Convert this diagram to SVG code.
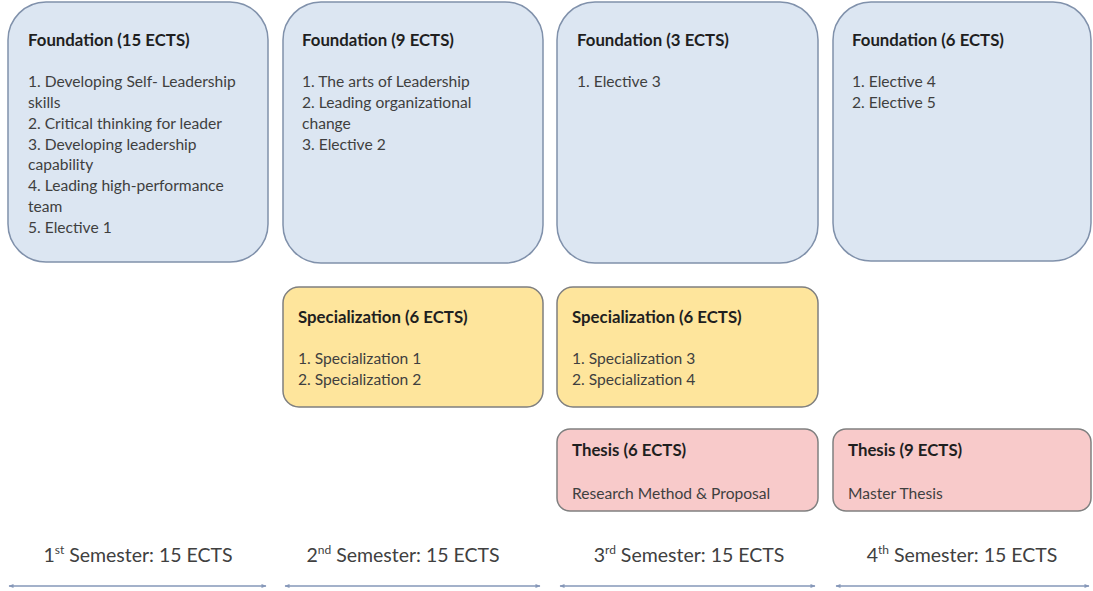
<svg xmlns="http://www.w3.org/2000/svg" width="1093" height="591" viewBox="0 0 1093 591">
<defs>
<style>
.found{fill:#dce6f2;stroke:#8091ab;stroke-width:1.5}
.spec{fill:#fee59c;stroke:#7f7f7f;stroke-width:1.5}
.thes{fill:#f8caca;stroke:#808080;stroke-width:1.5}
.t{font-family:Lato,"Liberation Sans",sans-serif;font-size:16.8px;font-weight:bold;fill:#1f1f1f}
.b{font-family:Lato,"Liberation Sans",sans-serif;font-size:15.6px;fill:#3f3f3f}
.sem{font-family:Lato,"Liberation Sans",sans-serif;font-size:19.5px;fill:#404040;text-anchor:middle}
.sup{font-size:12px}
.arr{stroke:#8597b8;stroke-width:1.5;fill:none;marker-start:url(#ah);marker-end:url(#ah)}
</style>
<marker id="ah" viewBox="0 0 10 10" refX="9" refY="5" markerWidth="6" markerHeight="5" orient="auto-start-reverse" markerUnits="userSpaceOnUse">
<path d="M0,1 L10,5 L0,9 Z" fill="#8597b8"/>
</marker>
</defs>
<rect width="1093" height="591" fill="#ffffff"/>

<g id="foundation-1">
<rect class="found" x="8" y="2" width="260" height="260" rx="38"/>
<text class="t" x="28" y="46">Foundation (15 ECTS)</text>
<text class="b" x="28" y="87">1. Developing Self- Leadership</text>
<text class="b" x="28" y="108">skills</text>
<text class="b" x="28" y="129">2. Critical thinking for leader</text>
<text class="b" x="28" y="150">3. Developing leadership</text>
<text class="b" x="28" y="170">capability</text>
<text class="b" x="28" y="191">4. Leading high-performance</text>
<text class="b" x="28" y="212">team</text>
<text class="b" x="28" y="233">5. Elective 1</text>
</g>

<g id="foundation-2">
<rect class="found" x="283" y="2" width="260" height="261" rx="38"/>
<text class="t" x="302" y="46">Foundation (9 ECTS)</text>
<text class="b" x="302" y="87">1. The arts of Leadership</text>
<text class="b" x="302" y="108">2. Leading organizational</text>
<text class="b" x="302" y="129">change</text>
<text class="b" x="302" y="150">3. Elective 2</text>
</g>

<g id="foundation-3">
<rect class="found" x="557" y="2" width="261" height="261" rx="38"/>
<text class="t" x="577" y="46">Foundation (3 ECTS)</text>
<text class="b" x="577" y="87">1. Elective 3</text>
</g>

<g id="foundation-4">
<rect class="found" x="833" y="2" width="258" height="259" rx="38"/>
<text class="t" x="852" y="46">Foundation (6 ECTS)</text>
<text class="b" x="852" y="87">1. Elective 4</text>
<text class="b" x="852" y="108">2. Elective 5</text>
</g>

<g id="specialization-2">
<rect class="spec" x="283" y="287" width="260" height="120" rx="16"/>
<text class="t" x="298" y="323">Specialization (6 ECTS)</text>
<text class="b" x="298" y="364">1. Specialization 1</text>
<text class="b" x="298" y="385">2. Specialization 2</text>
</g>

<g id="specialization-3">
<rect class="spec" x="557" y="287" width="261" height="120" rx="16"/>
<text class="t" x="572" y="323">Specialization (6 ECTS)</text>
<text class="b" x="572" y="364">1. Specialization 3</text>
<text class="b" x="572" y="385">2. Specialization 4</text>
</g>

<g id="thesis-3">
<rect class="thes" x="557" y="429" width="261" height="82" rx="13"/>
<text class="t" x="572" y="456">Thesis (6 ECTS)</text>
<text class="b" x="572" y="499">Research Method &amp; Proposal</text>
</g>

<g id="thesis-4">
<rect class="thes" x="833" y="429" width="258" height="82" rx="13"/>
<text class="t" x="848" y="456">Thesis (9 ECTS)</text>
<text class="b" x="848" y="499">Master Thesis</text>
</g>

<g id="semester-labels">
<text class="sem" x="138" y="562">1<tspan class="sup" dy="-8">st</tspan><tspan dy="8"> Semester: 15 ECTS</tspan></text>
<text class="sem" x="403" y="562">2<tspan class="sup" dy="-8">nd</tspan><tspan dy="8"> Semester: 15 ECTS</tspan></text>
<text class="sem" x="689" y="562">3<tspan class="sup" dy="-8">rd</tspan><tspan dy="8"> Semester: 15 ECTS</tspan></text>
<text class="sem" x="962" y="562">4<tspan class="sup" dy="-8">th</tspan><tspan dy="8"> Semester: 15 ECTS</tspan></text>
</g>

<g id="connectors">
<line class="arr" x1="9" y1="586" x2="266" y2="586"/>
<line class="arr" x1="285" y1="586" x2="540" y2="586"/>
<line class="arr" x1="560" y1="586" x2="815" y2="586"/>
<line class="arr" x1="836" y1="586" x2="1089" y2="586"/>
</g>
</svg>
